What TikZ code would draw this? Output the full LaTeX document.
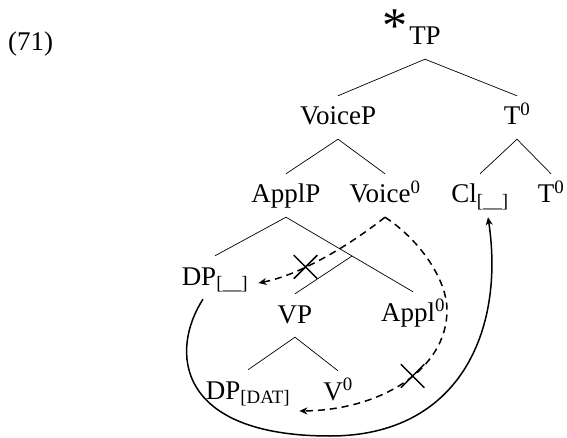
\documentclass[tikz,border=0pt]{standalone}
\usepackage{fontspec}
\setmainfont{Liberation Serif}
\usetikzlibrary{calc}
\usetikzlibrary{arrows.meta}
\usetikzlibrary{shapes.misc}

\begin{document}
\begin{tikzpicture}[x=1pt, y=-1pt,
    cat/.style={font=\fontsize{27}{32}\selectfont, anchor=base, inner xsep=2pt, inner ysep=7pt, text height=22pt, text depth=7pt},
    branch/.style={line width=0.7pt},
    move/.style={line width=1.5pt, dash pattern=on 7pt off 5pt, -{Stealth[length=8pt, width=7pt, inset=2.5pt]}},
    clmove/.style={line width=1.5pt, -{Stealth[length=8pt, width=7pt, inset=2.5pt]}},
    blocked/.style={draw, solid, cross out, line width=1.5pt, minimum size=22pt, inner sep=0pt}]
    \useasboundingbox (0,0) rectangle (567,438);

    \node[font=\fontsize{27}{32}\selectfont, anchor=base west, inner sep=0pt] (ex) at (8,51) {(71)};

    \node[cat] (TP) at (425,45) {TP};
    \node[font=\fontsize{50}{50}\selectfont, anchor=base east, inner sep=0pt] (star) at ([shift={(1pt,2pt)}]TP.base west) {*};
    \node[cat] (VoiceP) at (338,125) {VoiceP};
    \node[cat] (Thead) at (517,125) {T\textsuperscript{0}};
    \node[cat] (ApplP) at (286,203) {ApplP};
    \node[cat] (Voice) at (385,203) {Voice\textsuperscript{0}};
    \node[cat] (Cl) at (480,203) {Cl\textsubscript{[\_\_]}};
    \node[cat] (Tlow) at (551,203) {T\textsuperscript{0}};
    \node[cat] (DPa) at (215,285) {DP\textsubscript{[\_\_]}};
    \node[cat] (VP) at (295,323) {VP};
    \node[cat] (Appl) at (413,321) {Appl\textsuperscript{0}};
    \node[cat] (DPdat) at (248,399) {DP\textsubscript{[DAT]}};
    \node[cat] (V) at (338,400) {V\textsuperscript{0}};

    \draw[branch] (TP.south) -- (VoiceP.north);
    \draw[branch] (TP.south) -- (Thead.north);
    \draw[branch] (VoiceP.south) -- (ApplP.north);
    \draw[branch] (VoiceP.south) -- (Voice.north);
    \draw[branch] (Thead.south) -- (Cl.north);
    \draw[branch] (Thead.south) -- (Tlow.north);
    \coordinate (ApplBar) at ($(ApplP.south)!0.52!(Appl.north)$);
    \draw[branch] (ApplP.south) -- (DPa.north);
    \draw[branch] (ApplP.south) -- (Appl.north);
    \draw[branch] (ApplBar) -- (VP.north);
    \draw[branch] (VP.south) -- (DPdat.north);
    \draw[branch] (VP.south) -- (V.north);

    % blocked moves from Voice0
    \draw[move] (Voice.south) .. controls (350,245) and (300,275) .. ([shift={(8pt,2pt)}]DPa.base east)
        node[blocked, pos=0.64] (cutA) {};
    \draw[move] (Voice.south) .. controls (420,240) and (447,280) .. (447,310)
        .. controls (447,370) and (380,410) .. ([shift={(7pt,-12pt)}]DPdat.base east)
        node[blocked, pos=0.44] (cutB) {};

    % clitic movement
    \draw[clmove] ([xshift=-12pt]DPa.south) .. controls (170,350) and (175,436) .. (330,436)
        .. controls (460,436) and (505,330) .. ([xshift=8pt]Cl.south);
\end{tikzpicture}
\end{document}
